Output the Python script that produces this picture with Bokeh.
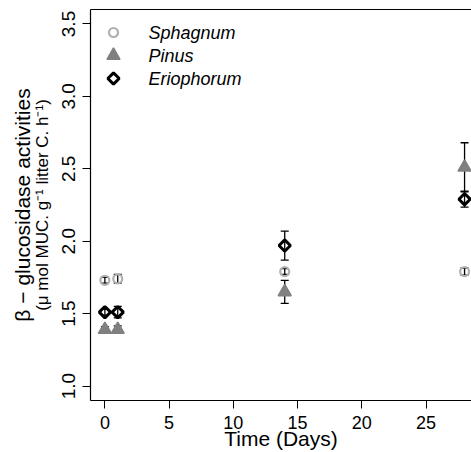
import numpy as np
from bokeh.plotting import figure
from bokeh.models import (ColumnDataSource, Range1d, LinearAxis, FixedTicker,
                          NumeralTickFormatter, Whisker, TeeHead)
from bokeh.core.properties import value
from bokeh.embed import file_html
from bokeh.resources import INLINE

# ---- data ----
days = [0, 1, 14, 28]
sphagnum = [1.73, 1.74, 1.79, 1.79]
sphagnum_err = [0.02, 0.03, 0.02, 0.025]
pinus = [1.39, 1.39, 1.65, 2.51]
pinus_err = [0.02, 0.025, 0.08, 0.17]
erio = [1.51, 1.51, 1.97, 2.29]
erio_err = [0.02, 0.04, 0.10, 0.055]

series_names = ["Sphagnum", "Pinus", "Eriophorum"]
x_ticks = [0, 5, 10, 15, 20, 25]
y_ticks = [1.0, 1.5, 2.0, 2.5, 3.0, 3.5]

FONT = "Liberation Sans"
W, H = 471, 452
ML, MT, MB = 90, 9, 52
FW, FH = W - ML, H - MT - MB

p = figure(width=W, height=H, output_backend="svg", toolbar_location=None,
           x_range=Range1d(-1.12, 28.54), y_range=Range1d(0.9, 3.6),
           min_border_left=ML, min_border_top=MT, min_border_bottom=MB,
           min_border_right=0)
p.outline_line_color = None
p.xgrid.visible = False
p.ygrid.visible = False
p.background_fill_color = "white"
p.border_fill_color = "white"
# pixel-based ranges for the legend block
p.extra_x_ranges = {"px": Range1d(0, FW)}
p.extra_y_ranges = {"px": Range1d(0, FH)}

def src(y, e):
    y = np.array(y); e = np.array(e)
    return ColumnDataSource(dict(x=days, y=y, lo=y - e, hi=y + e))

s_src, p_src, e_src = src(sphagnum, sphagnum_err), src(pinus, pinus_err), src(erio, erio_err)

styles = [
    dict(marker="circle", size=9, fill_color=None, line_color="#b0b0b0", line_width=2.2, angle=0),
    dict(marker="triangle", size=13, fill_color="#808080", line_color="#808080", line_width=1.5, angle=0),
    dict(marker="square", size=8, fill_color=None, line_color="black", line_width=3, angle=np.pi / 4),
]

for s, st in zip((s_src, p_src, e_src), styles):
    p.scatter("x", "y", source=s, **st)

for s in (s_src, p_src, e_src):
    w = Whisker(source=s, base="x", upper="hi", lower="lo", dimension="height",
                line_color="black", line_width=1.3,
                upper_head=TeeHead(size=8, line_color="black", line_width=1.3),
                lower_head=TeeHead(size=8, line_color="black", line_width=1.3))
    p.add_layout(w)

# ---- legend (drawn in pixel space of the frame) ----
row_h, first_row, mk_x, txt_x = 23, 23, 23, 58
for i, (name, st) in enumerate(zip(series_names, styles)):
    yy = FH - first_row - i * row_h
    p.scatter(x=[mk_x], y=[yy], x_range_name="px", y_range_name="px", **st)
    p.text(x=[txt_x], y=[yy], text=[name], x_range_name="px", y_range_name="px",
           text_font=value(FONT), text_font_style="italic", text_font_size="18px",
           text_baseline="middle", text_align="left", text_color="black")

# x axis
xa = p.xaxis[0]
xa.ticker = FixedTicker(ticks=x_ticks)
xa.axis_label = "Time (Days)"
xa.axis_label_text_font = FONT
xa.axis_label_text_font_style = "normal"
xa.axis_label_text_font_size = "21px"
xa.axis_label_text_color = "black"
xa.axis_label_standoff = -5
xa.major_label_text_font = FONT
xa.major_label_text_font_size = "18px"
xa.major_label_text_color = "black"
xa.major_label_standoff = 7
xa.major_tick_out = 8
xa.major_tick_in = 0
xa.minor_tick_out = 0
xa.minor_tick_in = 0
xa.axis_line_color = "black"
xa.major_tick_line_color = "black"
xa.axis_line_width = 1.2

# y axis
ya = p.yaxis[0]
ya.ticker = FixedTicker(ticks=y_ticks)
ya.formatter = NumeralTickFormatter(format="0.0")
ya.major_label_orientation = "vertical"
ya.axis_label = "(\u03bc mol MUC. g\u207b\u00b9 litter C. h\u207b\u00b9)"
ya.axis_label_text_font = FONT
ya.axis_label_text_font_style = "normal"
ya.axis_label_text_font_size = "17px"
ya.axis_label_text_color = "black"
ya.axis_label_standoff = 8
ya.major_label_text_font = FONT
ya.major_label_text_font_size = "19px"
ya.major_label_text_color = "black"
ya.major_label_standoff = 7
ya.major_tick_out = 8
ya.major_tick_in = 0
ya.minor_tick_out = 0
ya.minor_tick_in = 0
ya.axis_line_color = "black"
ya.axis_line_width = 1.2

outer = LinearAxis(ticker=FixedTicker(ticks=[]), axis_label="\u03b2 \u2212 glucosidase activities",
                   axis_label_text_font=FONT, axis_label_text_font_style="normal",
                   axis_label_text_font_size="21px", axis_label_text_color="black",
                   axis_label_standoff=-4,
                   axis_line_color=None, major_tick_out=0, major_tick_in=0,
                   minor_tick_out=0, minor_tick_in=0, major_label_standoff=0,
                   major_label_text_font_size="0px")
p.add_layout(outer, "left")

top = LinearAxis(ticker=FixedTicker(ticks=[]), axis_line_color="black", axis_line_width=1.2,
                 major_tick_out=0, major_tick_in=0, minor_tick_out=0, minor_tick_in=0,
                 major_label_standoff=0, major_label_text_font_size="0px")
p.add_layout(top, "above")

open("out.html", "w").write(file_html(p, INLINE))
